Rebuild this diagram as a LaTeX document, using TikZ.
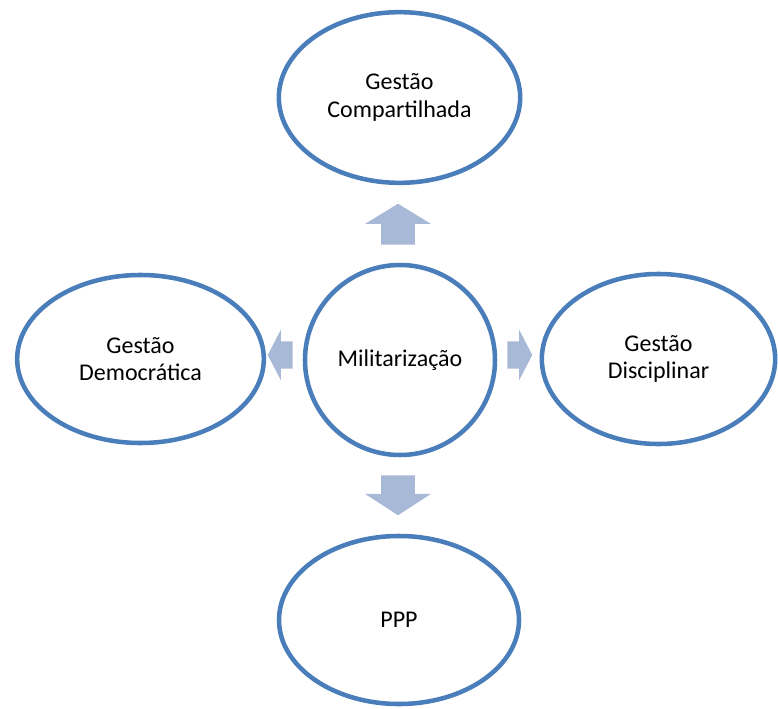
\documentclass[tikz,border=0pt]{standalone}
\usepackage{fontspec}
\setmainfont{Carlito}
\usetikzlibrary{shapes.geometric,shapes.arrows}
\definecolor{ovalblue}{RGB}{74,126,187}
\definecolor{arrowblue}{RGB}{167,185,215}

\begin{document}
\begin{tikzpicture}[x=0.75pt, y=-0.75pt,
    oval/.style={draw=ovalblue, line width=3.4pt, ellipse, inner sep=0pt, align=center,
        font=\fontsize{18}{20.5}\selectfont},
    blockarrow/.style={single arrow, fill=arrowblue, anchor=tail,
        single arrow head indent=0pt}]
    \useasboundingbox (0,0) rectangle (778,709);

    \node[oval, circle, minimum size=142.5pt] (mil) at (400,360) {Militariza\c{c}\~ao};
    \node[oval, minimum width=181pt, minimum height=128pt] (gcomp) at (399.5,97.5) {Gest\~ao\\Compartilhada};
    \node[oval, minimum width=185pt, minimum height=126pt] (gdem) at (140.5,359) {Gest\~ao\\Democr\'atica};
    \node[oval, minimum width=175pt, minimum height=127.5pt] (gdisc) at (658.5,359) {Gest\~ao\\Disciplinar};
    \node[oval, minimum width=180pt, minimum height=126pt] (ppp) at (399,620) {PPP};

    % block arrows between the ovals
    \node[blockarrow, shape border rotate=90, minimum height=30.75pt, inner xsep=12.4pt, inner ysep=0pt,
        single arrow head extend=12pt, single arrow tip angle=117] (toup) at (398,245) {};
    \node[blockarrow, shape border rotate=270, minimum height=30pt, inner xsep=12.4pt, inner ysep=0pt,
        single arrow head extend=12pt, single arrow tip angle=114] (todown) at (398,475) {};
    \node[blockarrow, shape border rotate=180, minimum height=18.75pt, inner xsep=0pt, inner ysep=10.1pt,
        single arrow head extend=8.6pt, single arrow tip angle=125] (toleft) at (293,355) {};
    \node[blockarrow, minimum height=18.75pt, inner xsep=0pt, inner ysep=10.1pt,
        single arrow head extend=8.6pt, single arrow tip angle=125] (toright) at (507,355) {};
\end{tikzpicture}
\end{document}
